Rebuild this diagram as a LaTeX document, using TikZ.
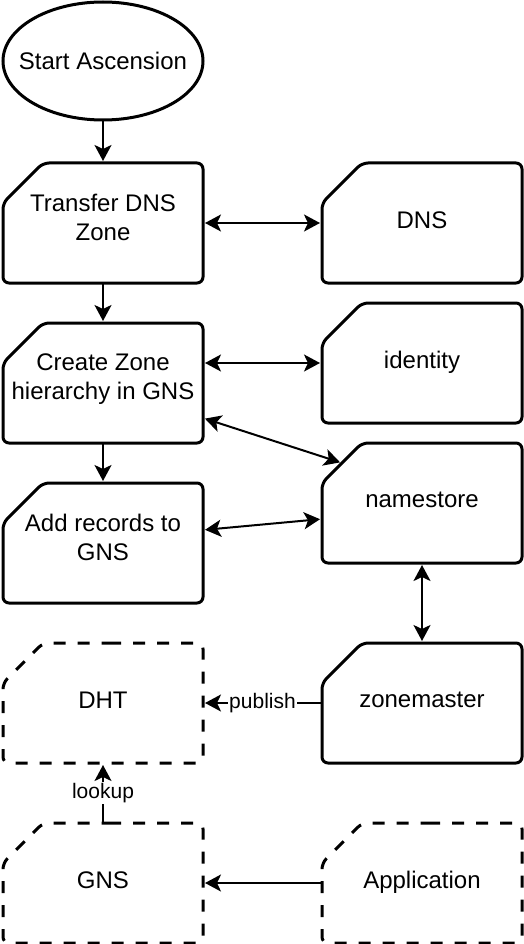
\documentclass[tikz,border=0pt]{standalone}
\usepackage{fontspec}
\setmainfont{Liberation Sans}
\usetikzlibrary{arrows.meta,positioning}

\begin{document}
\begin{tikzpicture}[
        x = 1pt, y = 1pt,
        > = {Stealth[length=16pt, width=17pt, inset=4pt]}, % arrow head style
        shorten > = 2pt, % don't touch arrow head to node
        node distance = 40pt and 119pt, % distance between nodes
        line width = 2pt % line style
      ]

      \tikzset{
        card/.style = {
          minimum width = 200pt,
          minimum height = 120pt,
          inner sep = 0pt,
          outer sep = 0pt,
          align = center,
          text depth = 6pt,
          font = \fontsize{24}{29}\selectfont
        },
        twolines/.style = {
          text depth = 12pt
        },
        cardline/.style = {
          draw = black,
          line width = 3pt,
          rounded corners = 6pt
        },
        ghostline/.style = {
          cardline,
          dash pattern = on 12pt off 12pt
        },
        lbl/.style = {
          fill = white,
          inner sep = 1pt,
          font = \fontsize{21}{25}\selectfont
        }
      }

      \useasboundingbox (0,0) rectangle (524,-944);

      \node[card, minimum height=118pt, text depth=0pt] (start) at (103,-61) {Start Ascension};
      \node[card, twolines] (transfer) [below=43pt of start] {Transfer DNS\\Zone};
      \node[card, twolines] (create) [below=of transfer] {Create Zone\\hierarchy in GNS};
      \node[card, twolines] (records) [below=of create] {Add records to\\GNS};
      \node[card] (dht) [below=of records] {DHT};
      \node[card] (gns) [below=60pt of dht] {GNS};

      \node[card] (dns) [right=of transfer] {DNS};
      \node[card] (identity) [below=20pt of dns] {identity};
      \node[card] (namestore) [below=20pt of identity] {namestore};
      \node[card] (zonemaster) [below=80pt of namestore] {zonemaster};
      \node[card] (application) [below=60pt of zonemaster] {Application};

      % outlines
      \draw[line width=3pt] (start) ellipse [x radius=100pt, y radius=59pt];
      \foreach \n in {transfer, create, records, dns, identity, namestore, zonemaster}
        \draw[cardline] (\n.north) -- (\n.north east) -- (\n.south east) -- (\n.south west)
          -- ([yshift=-40pt]\n.north west) -- ([xshift=40pt]\n.north west) -- cycle;
      \foreach \n in {dht, gns, application}
        \draw[ghostline] (\n.north) -- (\n.north east) -- (\n.south east) -- (\n.south west)
          -- ([yshift=-40pt]\n.north west) -- ([xshift=40pt]\n.north west) -- cycle;

      \draw[->] (start) -- (transfer);
      \draw[->] (transfer) -- (create);
      \draw[->] (create) -- (records);

      \draw[<->, shorten <=2pt] (transfer) -- (dns);
      \draw[<->, shorten <=2pt] ([yshift=20pt]create.east) -- (identity.west);
      \draw[<->, shorten <=2pt] ([yshift=-35pt]create.east) -- ([xshift=20pt,yshift=-20pt]namestore.north west);
      \draw[<->, shorten <=2pt] ([yshift=13pt]records.east) -- ([yshift=-16pt]namestore.west);
      \draw[<->, shorten <=2pt] (namestore) -- (zonemaster);

      \draw[->] (zonemaster) -- node[lbl] {publish} (dht);
      \draw[->] (gns) -- node[lbl] {lookup} (dht);
      \draw[->] (application) -- (gns);
\end{tikzpicture}
\end{document}
